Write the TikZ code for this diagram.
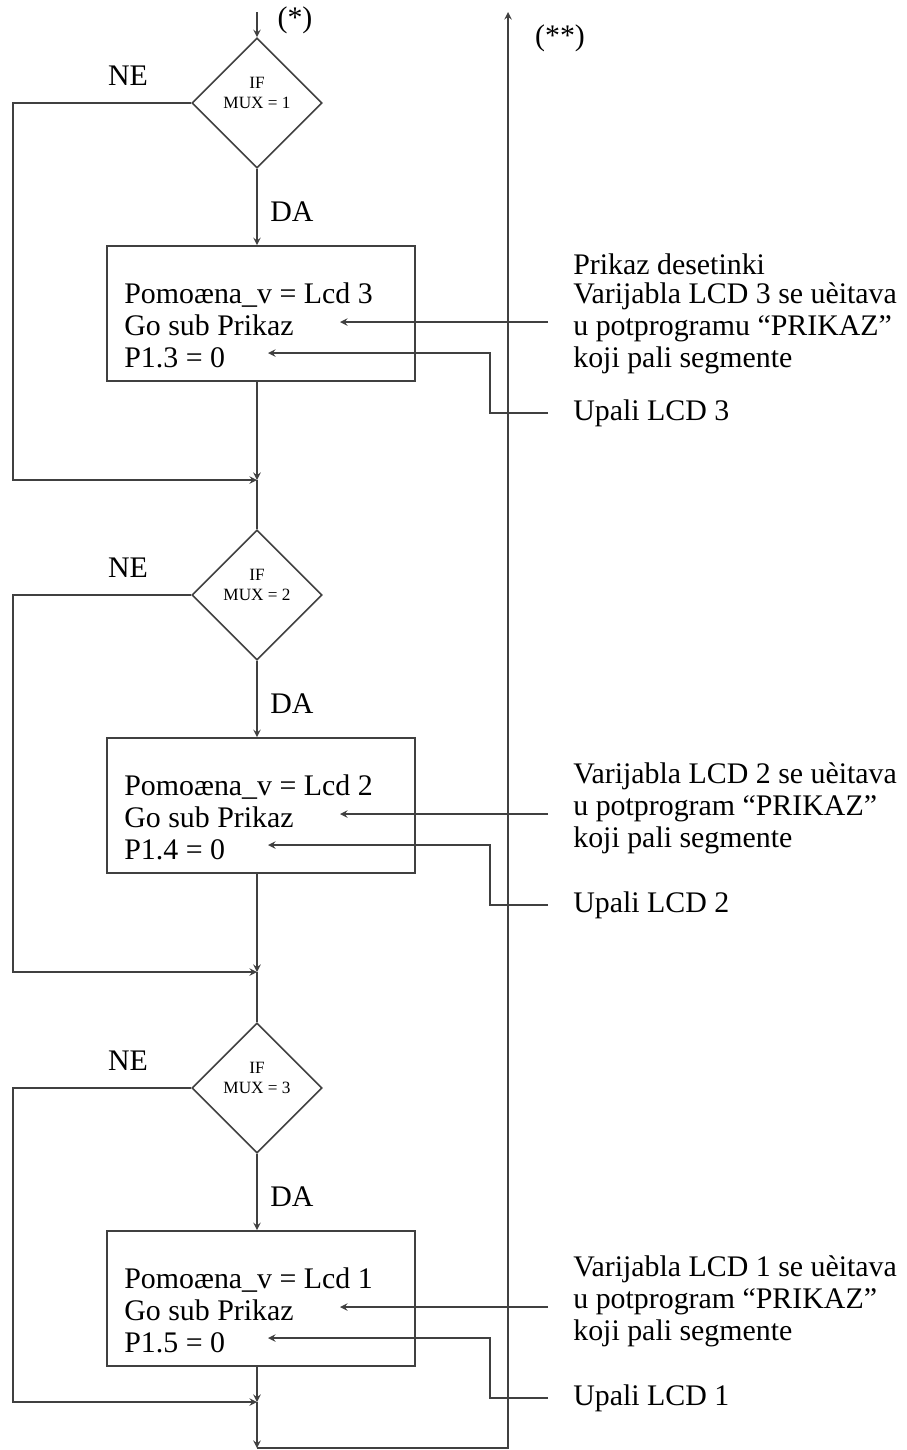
\documentclass[tikz,border=0pt]{standalone}
\usepackage{fontspec}
\setmainfont{Liberation Serif}
\usepackage{tikz}
\colorlet{lines}{black!75}
\usetikzlibrary{shapes.geometric}
\tikzset{
	decision/.style={diamond,draw=lines,line width=0.9pt,inner sep=0pt,minimum width=2.6cm,minimum height=2.6cm},
	cond/.style={align=center,inner sep=0pt,font=\fontsize{9.8}{11}\selectfont},
	block/.style={rectangle,draw=lines,line width=0.9pt,minimum width=6.16cm,minimum height=2.7cm},
	code/.style={anchor=west,align=left,inner sep=0pt,font=\fontsize{17}{18.2}\selectfont},
	note/.style={anchor=west,align=left,inner xsep=0.5cm,inner ysep=0pt,font=\fontsize{17}{18.2}\selectfont},
	labl/.style={inner sep=0pt,font=\fontsize{17}{18.2}\selectfont},
	flow/.style={draw=lines,line width=0.9pt},
	>=stealth,
	}
\begin{document}
\begin{tikzpicture}
\useasboundingbox (0,0) rectangle (18.12,-29);
\coordinate (start) at (5.14,-0.24);
\coordinate (top) at (10.16,-0.24);
\coordinate (fin) at (5.14,-28.96);
\node (star) at (5.9,-0.4) [labl] {(*)};
\node (stars) at (11.2,-0.76) [labl] {(**)};
\node (head) at (10.96,-5.28) [note] {Prikaz desetinki};
\foreach \m/\y/\lcd/\pin/\word/\j/\dv in {1/-2.06/3/3/potprogramu/7.54/4.5, 2/-11.9/2/4/potprogram/7.54/4.26, 3/-21.76/1/5/potprogram/6.28/4.26}
{
  \node (d\m) at (5.14,\y) [decision] {};
  \node (c\m) at (5.14,\y+0.2) [cond] {IF\\MUX = \m};
  \node (ne\m) at (2.56,\y+0.54) [labl] {NE};
  \node (da\m) at (5.84,\y-2.18) [labl] {DA};
  \node (b\m) at (5.22,\y-4.21) [block] {};
  \node (t\m) at (2.48,\y-4.44) [code] {Pomoæna\_v = Lcd \lcd\\Go sub Prikaz\\P1.\pin{} = 0};
  \node (v\m) at (10.96,\y-\dv) [note] {Varijabla LCD \lcd{} se uèitava\\u \word{} “PRIKAZ”\\koji pali segmente};
  \node (up\m) at (10.96,\y-6.2) [note] {Upali LCD \lcd};
  \coordinate (j\m) at (5.14,\y-\j);
  \coordinate (l\m) at (0.26,\y-\j);
  \coordinate (gt\m) at (6.8,\y-4.38);
  \coordinate (pt\m) at (5.36,\y-5.0);
  \coordinate (k\m) at (9.8,\y-5.0);
  \draw[flow,->] (d\m.south) -- (d\m.south |- b\m.north);
  \draw[flow,->] (d\m.south |- b\m.south) -- (j\m);
  \draw[flow,->] (d\m.west) -| (l\m) -- (j\m);
  \draw[flow,->] (v\m.west |- gt\m) -- (gt\m);
  \draw[flow,->] (up\m.west) -| (k\m) -- (pt\m);
}
\draw[flow,->] (start) -- (d1.north);
\draw[flow] (j1) -- (d2.north);
\draw[flow] (j2) -- (d3.north);
\draw[flow,->] (j3) -- (fin);
\draw[flow,->] (fin) -| (top);
\end{tikzpicture}
\end{document}
